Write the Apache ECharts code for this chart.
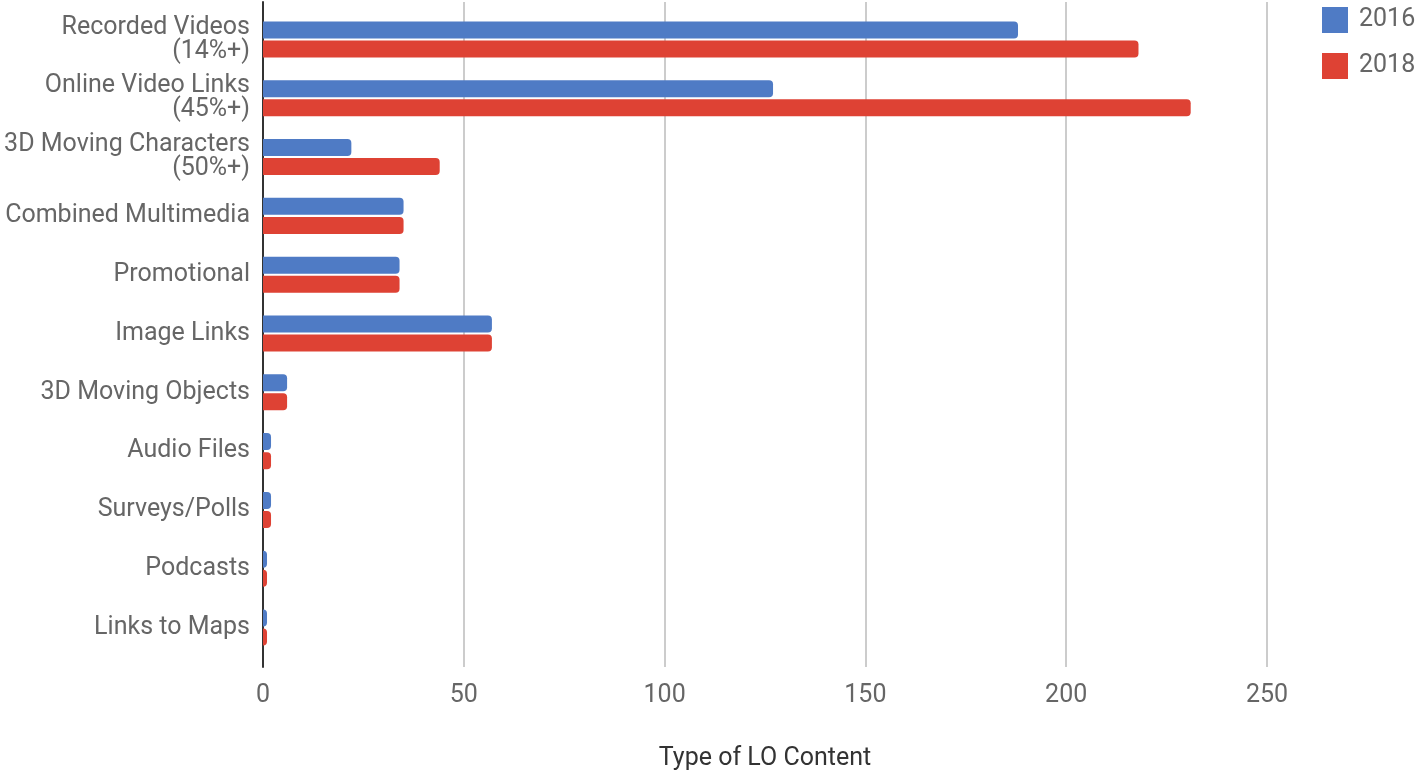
<!DOCTYPE html>
<html><head><meta charset="utf-8">
<script src="https://cdn.jsdelivr.net/npm/echarts@6/dist/echarts.min.js"></script>
<style>html,body{margin:0;padding:0;background:#fff}#c{width:1417px;height:771px}</style>
</head><body><div id="c"></div>
<script>
var categories = ["Recorded Videos\n(14%+)", "Online Video Links\n(45%+)", "3D Moving Characters\n(50%+)", "Combined Multimedia", "Promotional", "Image Links", "3D Moving Objects", "Audio Files", "Surveys/Polls", "Podcasts", "Links to Maps"];
var values2016 = [188, 127, 22, 35, 34, 57, 6, 2, 2, 1, 1];
var values2018 = [218, 231, 44, 35, 34, 57, 6, 2, 2, 1, 1];
var xTicks = [0, 50, 100, 150, 200, 250];
var seriesNames = ["2016", "2018"];

var chart = echarts.init(document.getElementById('c'));
var font = 'Roboto';
chart.setOption({
  animation: false,
  textStyle: {fontFamily: font},
  grid: [
    {left: 263, right: 150, top: 10, bottom: 114, containLabel: false, outerBoundsMode: 'none'},
    {left: 263, right: 150, top: 2, bottom: 104, containLabel: false, outerBoundsMode: 'none'}
  ],
  legend: {
    orient: 'vertical', left: 1317, top: 2, itemWidth: 26, itemHeight: 26, itemGap: 20,
    icon: 'rect',
    textStyle: {fontSize: 25, color: '#666', fontFamily: font, padding: [3, 0, 0, 6]},
    data: seriesNames
  },
  xAxis: [{
    gridIndex: 0, type: 'value', min: xTicks[0], max: xTicks[xTicks.length - 1], interval: 50,
    name: 'Type of LO Content', nameLocation: 'middle', nameGap: 89,
    nameTextStyle: {fontSize: 25, color: '#333', fontFamily: font},
    axisLine: {show: false}, axisTick: {show: false},
    axisLabel: {fontSize: 25, color: '#666', margin: 26, fontFamily: font},
    splitLine: {show: false}
  }, {
    gridIndex: 1, type: 'value', min: xTicks[0], max: xTicks[xTicks.length - 1], interval: 50,
    axisLine: {show: false}, axisTick: {show: false}, axisLabel: {show: false},
    splitLine: {lineStyle: {color: '#cccccc', width: 2}}
  }],
  yAxis: [{
    gridIndex: 0, type: 'category', data: categories, inverse: true,
    axisLine: {show: false},
    axisTick: {show: false},
    axisLabel: {fontSize: 25, color: '#666', margin: 13, lineHeight: 24, align: 'right', fontFamily: font, padding: [9, 0, 0, 0]},
    z: 5
  }, {
    gridIndex: 1, type: 'value', min: 0, max: 1,
    axisLine: {show: true, onZero: false, lineStyle: {color: '#333', width: 2}},
    axisTick: {show: false}, axisLabel: {show: false}, splitLine: {show: false}
  }],
  series: [
    {name: seriesNames[0], type: 'bar', data: values2016, barWidth: 17, barGap: '12%', xAxisIndex: 0, yAxisIndex: 0, z: 3,
     itemStyle: {color: '#4f7bc5', borderRadius: [0, 4, 4, 0]}},
    {name: seriesNames[1], type: 'bar', data: values2018, barWidth: 17, barGap: '12%', xAxisIndex: 0, yAxisIndex: 0, z: 3,
     itemStyle: {color: '#de4234', borderRadius: [0, 4, 4, 0]}}
  ]
});
</script></body></html>
